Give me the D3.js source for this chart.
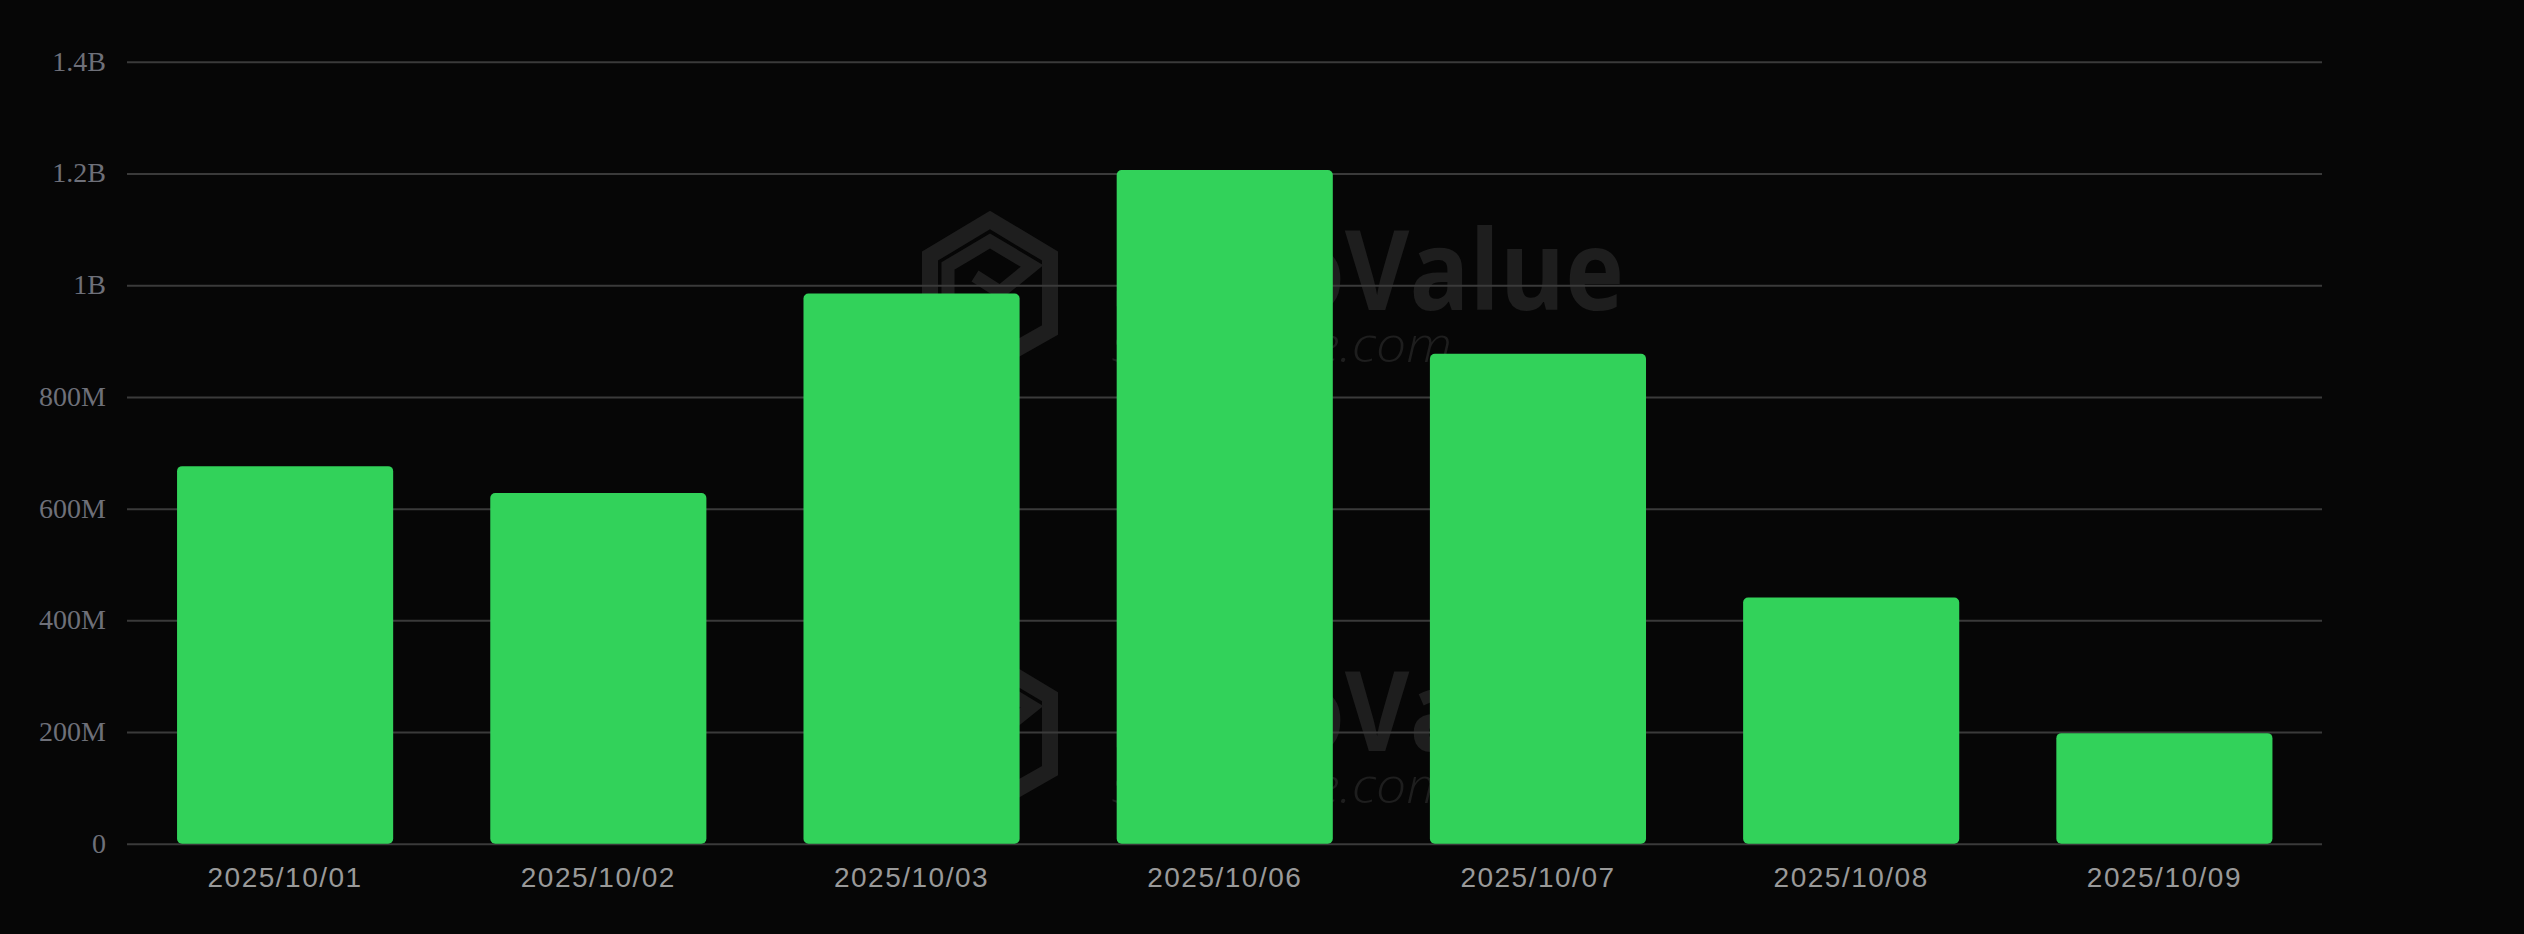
<!DOCTYPE html>
<html>
<head>
<meta charset="utf-8">
<script src="https://cdn.jsdelivr.net/npm/d3@7/dist/d3.min.js"></script>
<style>
  html, body { margin: 0; padding: 0; background: #060606; }
  svg { display: block; }
</style>
</head>
<body>
<svg id="chart" width="2524" height="934"></svg>
<script>
const categories = ["2025/10/01","2025/10/02","2025/10/03","2025/10/06","2025/10/07","2025/10/08","2025/10/09"];
const values = [677e6, 629e6, 986e6, 1207e6, 878e6, 442e6, 199e6];
const yTicks = [0, 2e8, 4e8, 6e8, 8e8, 1e9, 1.2e9, 1.4e9];
const yTickLabels = ["0", "200M", "400M", "600M", "800M", "1B", "1.2B", "1.4B"];

const W = 2524, H = 934;
const plot = { left: 128.5, right: 2321, gridLeft: 127, gridRight: 2322, top: 62.3, bottom: 844.3 };

const svg = d3.select("#chart");
svg.append("rect").attr("width", W).attr("height", H).attr("fill", "#060606");

const x = d3.scaleBand().domain(categories).range([plot.left, plot.right])
  .paddingInner(0.31).paddingOuter(0.155);
const y = d3.scaleLinear().domain([0, 1.4e9]).range([plot.bottom, plot.top]);

// Watermarks
function watermark(g) {
  const wm = "#1e1e1e";
  g.append("path")
    .attr("d", "M990,220 L1050,256 L1050,330 L990,364 L930,330 L930,256 Z")
    .attr("fill", "none").attr("stroke", wm).attr("stroke-width", 16).attr("stroke-linejoin", "miter");
  g.append("path")
    .attr("d", "M948,300 L948,266 L990,241 L1032,266 L1000,292 L975,276")
    .attr("fill", "none").attr("stroke", wm).attr("stroke-width", 13).attr("stroke-linejoin", "miter");
  const t = g.append("text").attr("font-family", "'Open Sans', sans-serif").attr("fill", wm);
  t.append("tspan").attr("x", 1112).attr("y", 310)
    .attr("font-weight", 700).attr("font-size", 112)
    .attr("textLength", 512).attr("lengthAdjust", "spacingAndGlyphs")
    .text("SoSoValue");
  t.append("tspan").attr("x", 1112).attr("y", 362)
    .attr("font-weight", 300).attr("font-style", "italic").attr("font-size", 48)
    .attr("textLength", 340).attr("lengthAdjust", "spacingAndGlyphs")
    .text("sosovalue.com");
}
watermark(svg.append("g"));
watermark(svg.append("g").attr("transform", "translate(0,440.7)"));

// Gridlines
svg.append("g").selectAll("line").data(yTicks).join("line")
  .attr("x1", plot.gridLeft).attr("x2", plot.gridRight)
  .attr("y1", d => y(d)).attr("y2", d => y(d))
  .attr("stroke", "#3a3a3a").attr("stroke-width", 2);

// Y axis labels
const yAxis = d3.axisLeft(y).tickValues(yTicks)
  .tickFormat((d, i) => yTickLabels[i]).tickSize(0).tickPadding(21);
const yg = svg.append("g").attr("transform", `translate(${plot.gridLeft},0)`).call(yAxis);
yg.select(".domain").remove();
yg.selectAll("text")
  .attr("font-family", "'Liberation Serif', 'Times New Roman', serif")
  .attr("font-size", 28).attr("fill", "#6e7079").attr("dy", "0.28em");

// Bars
svg.append("g").selectAll("rect").data(values).join("rect")
  .attr("x", (d, i) => x(categories[i]))
  .attr("width", x.bandwidth())
  .attr("y", d => y(d))
  .attr("height", d => y(0) - 0.6 - y(d))
  .attr("rx", 5).attr("ry", 5)
  .attr("fill", "#32d25a");

// X axis labels
const xAxis = d3.axisBottom(x).tickSize(0).tickPadding(0);
const xg = svg.append("g").attr("transform", `translate(0,${plot.bottom})`).call(xAxis);
xg.select(".domain").remove();
xg.selectAll("text")
  .attr("font-family", "'Liberation Sans', Arial, sans-serif")
  .attr("font-size", 28).attr("fill", "#999999")
  .attr("letter-spacing", "1.5px")
  .attr("dy", null).attr("y", 43);
</script>
</body>
</html>
